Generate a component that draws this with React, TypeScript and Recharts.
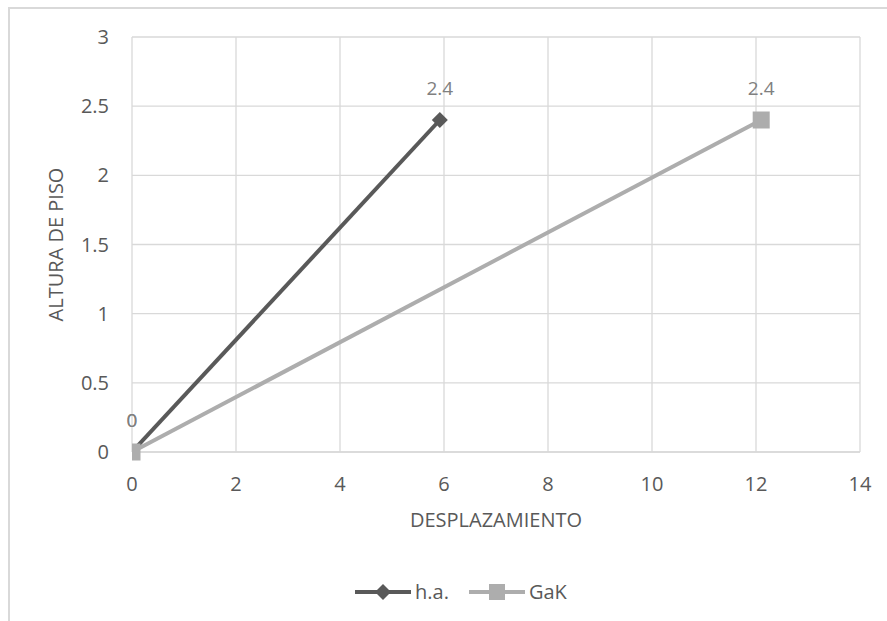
import React from 'react';
import {
  LineChart, Line, XAxis, YAxis, CartesianGrid, Legend, LabelList, Label,
} from 'recharts';

// Desplazamiento vs altura de piso
const haDesplazamiento = [0, 5.92];
const haAltura = [0, 2.4];
const gakDesplazamiento = [0, 12.1];
const gakAltura = [0, 2.4];

const X_TICKS = [0, 2, 4, 6, 8, 10, 12, 14];
const Y_TICKS = [0, 0.5, 1, 1.5, 2, 2.5, 3];

const HA_COLOR = '#595959';
const GAK_COLOR = '#ADADAD';
const GRID = '#D9D9D9';
const TEXT = '#595959';
const FONT = '"Open Sans", sans-serif';

const haData = haDesplazamiento.map((x, i) => ({ x, y: haAltura[i] }));
const gakData = gakDesplazamiento.map((x, i) => ({ x, y: gakAltura[i] }));

function Diamond({ cx, cy, fill, size = 16 }: { cx?: number; cy?: number; fill: string; size?: number }) {
  if (cx == null || cy == null) return null;
  const h = size / 2;
  return <path d={`M${cx},${cy - h}L${cx + h},${cy}L${cx},${cy + h}L${cx - h},${cy}Z`} fill={fill} />;
}

function Square({ cx, cy, fill, size = 17 }: { cx?: number; cy?: number; fill: string; size?: number }) {
  if (cx == null || cy == null) return null;
  return <rect x={cx - size / 2} y={cy - size / 2} width={size} height={size} fill={fill} />;
}

const LEGEND_ITEMS = [
  { name: 'h.a.', color: HA_COLOR, marker: 'diamond' },
  { name: 'GaK', color: GAK_COLOR, marker: 'square' },
];

function LegendContent() {
  return (
    <div style={{ display: 'flex', alignItems: 'center', fontFamily: FONT, fontSize: 20, color: TEXT }}>
      {LEGEND_ITEMS.map((item) => (
        <div key={item.name} style={{ display: 'flex', alignItems: 'center', marginRight: 20 }}>
          <svg width={56} height={20}>
            <line x1={0} y1={10} x2={56} y2={10} stroke={item.color} strokeWidth={4} />
            {item.marker === 'diamond'
              ? <Diamond cx={28} cy={10} fill={item.color} size={16} />
              : <Square cx={28} cy={10} fill={item.color} size={16} />}
          </svg>
          <span style={{ marginLeft: 4 }}>{item.name}</span>
        </div>
      ))}
    </div>
  );
}

function YTitle({ viewBox }: any) {
  if (!viewBox) return null;
  const x = viewBox.x + 55;
  const y = viewBox.y + viewBox.height / 2;
  return (
    <text x={x} y={y} transform={`rotate(-90, ${x}, ${y})`} textAnchor="middle" dominantBaseline="central"
      fill={TEXT} fontSize={20} fontFamily={FONT}>
      ALTURA DE PISO
    </text>
  );
}

export default function App() {
  return (
    <div style={{ position: 'absolute', left: 0, top: 0, width: 887, height: 621, overflow: 'hidden', background: '#fff' }}>
      <div style={{ position: 'absolute', left: 8, top: 7, width: 1000, height: 800, borderLeft: `2px solid ${GRID}`, borderTop: `2px solid ${GRID}` }} />
      <LineChart
        width={887}
        height={621}
        margin={{ top: 37, right: 27, left: 0, bottom: 84 }}
        style={{ fontFamily: FONT }}
      >
        <CartesianGrid stroke={GRID} strokeWidth={1.3} horizontalValues={Y_TICKS} verticalValues={X_TICKS} />
        <XAxis
          dataKey="x"
          type="number"
          domain={[0, 14]}
          ticks={X_TICKS}
          height={85}
          tickLine={false}
          tickSize={0}
          tickMargin={25}
          axisLine={{ stroke: GRID, strokeWidth: 1.3 }}
          tick={{ fill: TEXT, fontSize: 20, fontFamily: FONT }}
          allowDataOverflow
        >
          <Label value="DESPLAZAMIENTO" position="insideTop" offset={61} fill={TEXT} fontSize={20} fontFamily={FONT} />
        </XAxis>
        <YAxis
          dataKey="y"
          type="number"
          domain={[0, 3]}
          ticks={Y_TICKS}
          width={132}
          tickLine={false}
          tickSize={0}
          tickMargin={23}
          axisLine={false}
          tick={{ fill: TEXT, fontSize: 20, fontFamily: FONT }}
        >
          <Label content={<YTitle />} />
        </YAxis>
        <Legend
          verticalAlign="middle"
          layout="horizontal"
          wrapperStyle={{ top: 578, left: 355, width: 260 }}
          content={<LegendContent />}
        />
        <Line
          data={haData}
          dataKey="y"
          name="h.a."
          stroke={HA_COLOR}
          strokeWidth={4}
          dot={(p: any) => <Diamond key={`ha-${p.index}`} cx={p.cx} cy={p.cy} fill={HA_COLOR} size={16} />}
          activeDot={false}
          isAnimationActive={false}
        >
          <LabelList dataKey="y" position="top" offset={25} fill="#808080" fontSize={19} fontFamily={FONT} />
        </Line>
        <Line
          data={gakData}
          dataKey="y"
          name="GaK"
          stroke={GAK_COLOR}
          strokeWidth={4}
          dot={(p: any) => <Square key={`gak-${p.index}`} cx={p.cx} cy={p.cy} fill={GAK_COLOR} size={17} />}
          activeDot={false}
          isAnimationActive={false}
        >
          <LabelList dataKey="y" position="top" offset={25} fill="#808080" fontSize={19} fontFamily={FONT} />
        </Line>
      </LineChart>
    </div>
  );
}
